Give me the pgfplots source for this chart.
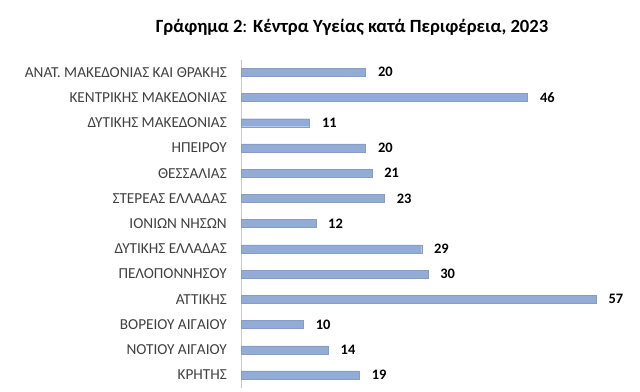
\documentclass[border=0pt]{standalone}
\usepackage{pgfplots}
\pgfplotsset{compat=1.18}
\usepackage{fontspec}
\setmainfont{Carlito}
\definecolor{barc}{RGB}{146,172,214}
\definecolor{lab}{RGB}{64,64,64}
\begin{document}
\begin{tikzpicture}[x=1bp,y=1bp]
\useasboundingbox (0,0) rectangle (640,391);
\node[font=\fontsize{18.7}{21}\selectfont] at (352,364) {\textbf{Γράφημα 2}: \textbf{Κέντρα Υγείας κατά Περιφέρεια, 2023}};
\begin{axis}[
  at={(241bp,3.4bp)}, anchor=south west,
  scale only axis, width=392.5bp, height=328bp,
  xmin=0, xmax=63, ymin=-0.5, ymax=12.5,
  y dir=reverse,
  xbar, bar width=8bp,
  axis x line=none,
  axis y line*=left,
  y axis line style={draw=black!20, line width=0.8bp},
  ytick={0,...,12},
  yticklabels={ΑΝΑΤ. ΜΑΚΕΔΟΝΙΑΣ ΚΑΙ ΘΡΑΚΗΣ, ΚΕΝΤΡΙΚΗΣ ΜΑΚΕΔΟΝΙΑΣ, ΔΥΤΙΚΗΣ ΜΑΚΕΔΟΝΙΑΣ, ΗΠΕΙΡΟΥ, ΘΕΣΣΑΛΙΑΣ, ΣΤΕΡΕΑΣ ΕΛΛΑΔΑΣ, ΙΟΝΙΩΝ ΝΗΣΩΝ, ΔΥΤΙΚΗΣ ΕΛΛΑΔΑΣ, ΠΕΛΟΠΟΝΝΗΣΟΥ, ΑΤΤΙΚΗΣ, ΒΟΡΕΙΟΥ ΑΙΓΑΙΟΥ, ΝΟΤΙΟΥ ΑΙΓΑΙΟΥ, ΚΡΗΤΗΣ},
  major tick length=0pt,
  yticklabel style={font=\fontsize{15.3}{17}\selectfont, text=lab, inner sep=0pt, xshift=-14bp},
  /pgf/number format/assume math mode=true,
  nodes near coords,
  nodes near coords align=horizontal,
  every node near coord/.append style={font=\fontsize{14.5}{16}\selectfont\bfseries, text=black, xshift=9bp},
  point meta=x,
]
\addplot[fill=barc, draw=barc!92!black, line width=0.3bp] coordinates {
(20,0) (46,1) (11,2) (20,3) (21,4) (23,5) (12,6) (29,7) (30,8) (57,9) (10,10) (14,11) (19,12)};
\end{axis}
\end{tikzpicture}
\end{document}
